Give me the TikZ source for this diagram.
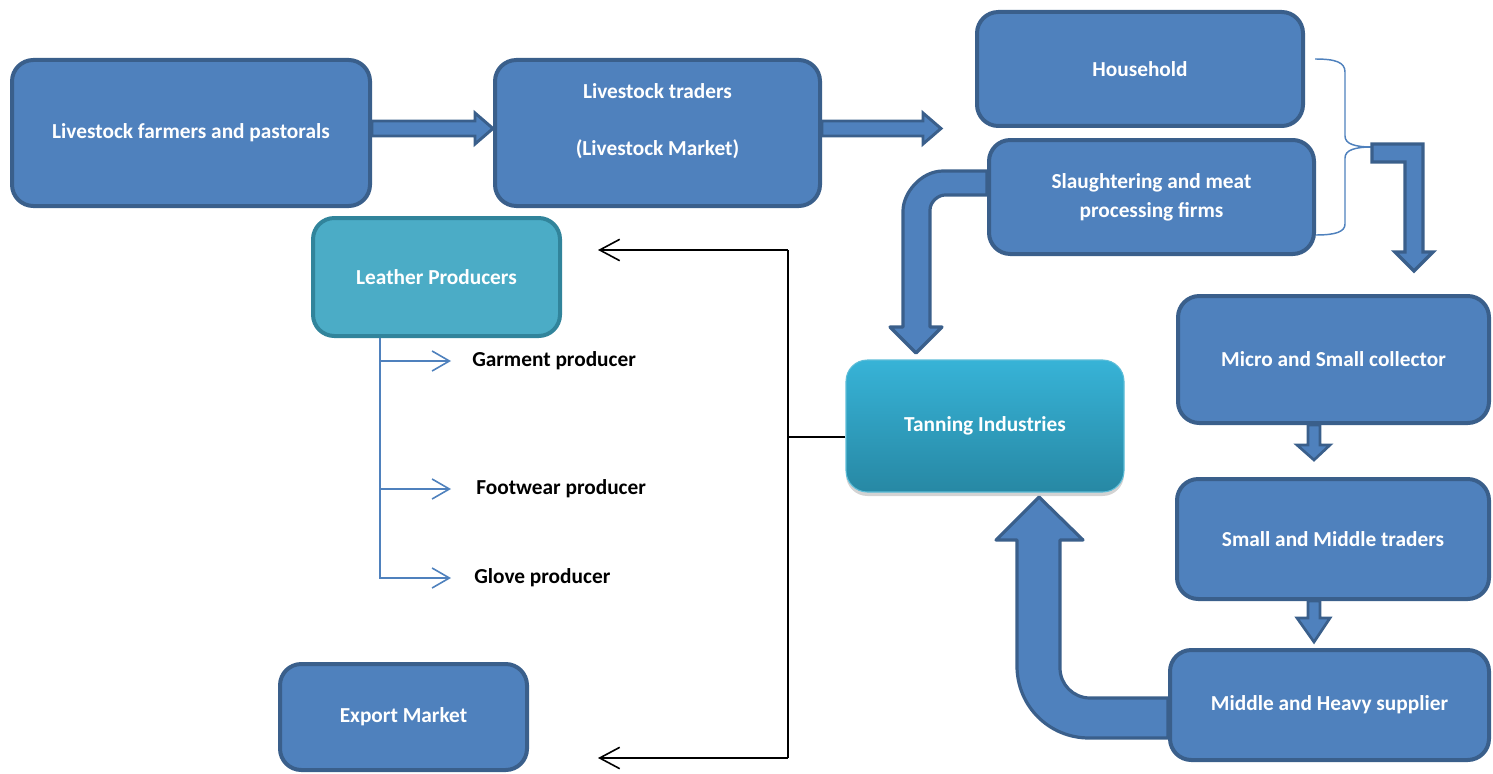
\documentclass[tikz,border=0pt]{standalone}
\usepackage{fontspec}
\setmainfont{Carlito}
\usetikzlibrary{arrows.meta,shadows,calc}
\definecolor{boxfill}{HTML}{4F81BD}
\definecolor{boxline}{HTML}{3A5F8B}
\definecolor{leafill}{HTML}{4BACC6}
\definecolor{lealine}{HTML}{31849B}
\definecolor{tantop}{HTML}{37B3D7}
\definecolor{tanbot}{HTML}{2788A4}
\definecolor{tanline}{HTML}{5DBDD8}
\begin{document}
\begin{tikzpicture}[x=0.75pt,y=-0.75pt,
  font=\bfseries\fontsize{16}{19.5}\selectfont,
  box/.style={draw=boxline, fill=boxfill, line width=3pt, rounded corners=16pt,
    text=white, align=center, inner sep=0pt},
  leabox/.style={box, draw=lealine, fill=leafill},
  tanbox/.style={rounded corners=16pt, top color=tantop, bottom color=tanbot,
    draw=tanline, line width=0.8pt, text=white, align=center, inner sep=0pt,
    drop shadow={opacity=0.35, shadow xshift=0pt, shadow yshift=-3pt}},
  wtext/.style={text=white, align=center, inner sep=0pt},
  ktext/.style={text=black, anchor=west, inner sep=0pt},
  blockarr/.style={draw=boxline, fill=boxfill, line width=2.2pt, line join=miter},
  thinarr/.style={draw=boxline, fill=boxfill, line width=2.6pt, line join=miter},
  bentarr/.style={draw=boxline, fill=boxfill, line width=2.4pt, line join=round},
  blackline/.style={draw=black, line width=1.2pt},
  blackarr/.style={blackline, -{Straight Barb[length=15pt,width=16pt,line width=1.2pt]}},
  bluearr/.style={draw=boxfill, line width=1.2pt, -{Straight Barb[length=13pt,width=15pt,line width=1.2pt]}},
  brace/.style={draw=boxfill, line width=1.1pt}
]
\useasboundingbox (0,0) rectangle (1493,774);

% boxes
\node[box, minimum width=268.5pt, minimum height=109.5pt] (farmers) at (191,133)
  {Livestock farmers and pastorals};
\node[box, minimum width=243.75pt, minimum height=109.5pt] (traders) at (657.5,133) {};
\node[wtext] (traderstxt) at (657.5,121) {Livestock traders\\[23.5pt](Livestock Market)};
\node[box, minimum width=244.5pt, minimum height=85.5pt] (household) at (1140,69) {Household};
\node[box, minimum width=243.75pt, minimum height=85.5pt, font=\bfseries\fontsize{16}{22}\selectfont] (slaughter) at (1151.5,197)
  {Slaughtering and meat\\processing firms};
\node[leabox, minimum width=185.25pt, minimum height=88.5pt] (leather) at (436.5,277) {Leather Producers};
\node[tanbox, minimum width=208.5pt, minimum height=99pt] (tanning) at (985,426) {Tanning Industries};
\node[box, minimum width=233.25pt, minimum height=95.25pt] (micro) at (1333.5,359.5) {Micro and Small collector};
\node[box, minimum width=234pt, minimum height=90pt] (smalltr) at (1333,539) {Small and Middle traders};
\node[box, minimum width=239.25pt, minimum height=82.5pt] (heavy) at (1329.5,705) {Middle and Heavy supplier};
\node[box, minimum width=185.25pt, minimum height=79.5pt] (export) at (403.5,717) {Export Market};

% producer labels
\node[ktext] (garment) at (472,361) {Garment producer};
\node[ktext] (footwear) at (476,489) {Footwear producer};
\node[ktext] (glove) at (474,578) {Glove producer};

% straight block arrows
\path[blockarr] (farmers.east |- 0,121) -- (475,121) -- (475,113) -- (traders.west |- 0,128.5)
  -- (475,144) -- (475,136) -- (farmers.east |- 0,136) -- cycle;
\path[blockarr] (traders.east |- 0,121) -- (923,121) -- (923,113) -- (941,128.5)
  -- (923,144) -- (923,136) -- (traders.east |- 0,136) -- cycle;

% bent arrow slaughtering -> tanning
\path[bentarr] (slaughter.west |- 0,171) -- (943,171) .. controls (921,171) and (903,193) .. (903,211)
  -- (903,327) -- (890,327) -- (916,353) -- (942,327) -- (930,327) -- (930,210)
  .. controls (930,201.7) and (938.3,195) .. (945,195) -- (slaughter.west |- 0,195) -- cycle;

% bent arrow heavy -> tanning
\path[bentarr] (heavy.west |- 0,698) -- (1090,698) .. controls (1073.4,698) and (1060,684.6) .. (1060,668)
  -- (1060,540) -- (1083,540) -- (1039,497) -- (996,540) -- (1017,540) -- (1017,666)
  .. controls (1017,706) and (1049,738) .. (1089,738) -- (heavy.west |- 0,738) -- cycle;

% brace
\coordinate (bracetip) at (1372,147);
\draw[brace] (1315,59) .. controls (1335,59) and (1345,62) .. (1345,72) -- (1345,136)
  .. controls (1345,144) and (1355,147) .. (bracetip)
  .. controls (1355,147) and (1345,150) .. (1345,158) -- (1345,224)
  .. controls (1345,232) and (1335,235) .. (1316,235);

% bent thin arrow brace -> micro
\path[thinarr] (bracetip |- 0,144) -- (1423,144) -- (1423,252) -- (1433,252) -- (1414,271)
  -- (1395,252) -- (1405,252) -- (1405,162) -- (bracetip |- 0,162) -- cycle;

% small down arrows
\path[thinarr, line width=2pt] (1308,425) -- (1320,425) -- (1320,445) -- (1330,445) -- (1314,460)
  -- (1297,445) -- (1308,445) -- cycle;
\path[thinarr, line width=2pt] (1308,601) -- (1320,601) -- (1320,618) -- (1330,618) -- (1314,642)
  -- (1297,618) -- (1308,618) -- cycle;

% black distribution lines
\coordinate (junc) at (788,437);
\coordinate (jtop) at (788,250);
\coordinate (jbot) at (788,758);
\coordinate (toleather) at (598,250);
\coordinate (toexport) at (598,758);
\draw[blackline] (junc -| tanning.west) -- (junc);
\draw[blackline] (jtop) -- (jbot);
\draw[blackarr] (jtop) -- (toleather);
\draw[blackarr] (jbot) -- (toexport);

% leather producers branches
\coordinate (lbase) at (380,338);
\draw[bluearr] (lbase) |- ([xshift=-15.75pt]garment.west);
\draw[bluearr] (lbase) |- ([xshift=-18.75pt]footwear.west);
\draw[bluearr] (lbase) |- ([xshift=-17.25pt]glove.west);
\end{tikzpicture}
\end{document}
